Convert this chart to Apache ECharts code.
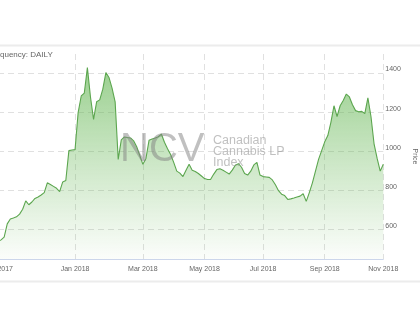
<!DOCTYPE html>
<html><head><meta charset="utf-8">
<script src="https://cdn.jsdelivr.net/npm/echarts@6/dist/echarts.min.js"></script>
<style>html,body{margin:0;padding:0;background:#fff;}#c{width:420px;height:322px;}</style>
</head><body><div id="c"></div>
<script>
const dates = [
'2017-11-01','2017-11-03','2017-11-06','2017-11-08','2017-11-10','2017-11-13','2017-11-15','2017-11-17','2017-11-20','2017-11-22','2017-11-24','2017-11-27','2017-11-29','2017-12-01','2017-12-04','2017-12-06','2017-12-08','2017-12-11','2017-12-13','2017-12-15','2017-12-18','2017-12-20','2017-12-22','2017-12-27','2017-12-29',
'2018-01-02','2018-01-04','2018-01-08','2018-01-10','2018-01-12','2018-01-16','2018-01-18','2018-01-22','2018-01-24','2018-01-26','2018-01-30','2018-02-01','2018-02-05','2018-02-07','2018-02-09','2018-02-13','2018-02-15','2018-02-19','2018-02-21','2018-02-23','2018-02-26','2018-02-28',
'2018-03-01','2018-03-05','2018-03-07','2018-03-09','2018-03-13','2018-03-15','2018-03-19','2018-03-21','2018-03-23','2018-03-27','2018-03-29','2018-04-03','2018-04-05','2018-04-09','2018-04-11','2018-04-13','2018-04-17','2018-04-19','2018-04-23','2018-04-26',
'2018-05-01','2018-05-04','2018-05-07','2018-05-10','2018-05-14','2018-05-16','2018-05-18','2018-05-23','2018-05-25','2018-05-29','2018-05-31','2018-06-04','2018-06-07','2018-06-11','2018-06-13','2018-06-15','2018-06-19','2018-06-22','2018-06-27',
'2018-07-03','2018-07-05','2018-07-09','2018-07-11','2018-07-13','2018-07-17','2018-07-19','2018-07-23','2018-07-25','2018-07-27','2018-07-31','2018-08-02','2018-08-07','2018-08-09','2018-08-13','2018-08-15','2018-08-17','2018-08-21','2018-08-24','2018-08-28',
'2018-09-04','2018-09-06','2018-09-10','2018-09-12','2018-09-14','2018-09-18','2018-09-20','2018-09-24','2018-09-26','2018-09-28','2018-10-02','2018-10-04','2018-10-09','2018-10-11','2018-10-15','2018-10-17','2018-10-19','2018-10-23','2018-10-26','2018-11-01'
];
const prices = [
540,548,562,630,655,660,666,680,705,748,728,742,760,768,778,790,840,832,822,812,795,845,852,1005,1008,
1010,1200,1285,1300,1430,1280,1165,1255,1265,1320,1405,1380,1325,1255,960,1060,1075,1072,1070,1055,1025,980,
935,965,1058,1065,1070,1076,1090,1048,1015,985,945,900,890,872,905,935,905,898,888,875,
862,857,858,885,908,912,905,895,885,905,930,938,920,888,880,900,932,945,880,
872,870,868,855,830,800,782,775,755,758,762,768,772,784,745,790,840,900,960,1005,
1050,1082,1150,1235,1180,1235,1262,1295,1280,1240,1210,1204,1206,1195,1275,1180,1040,965,900,935
];
const monthTicks = ['2017-11-01','2018-01-02','2018-03-01','2018-05-01','2018-07-03','2018-09-04','2018-11-01'];
const monthLabels = ['Nov 2017','Jan 2018','Mar 2018','May 2018','Jul 2018','Sep 2018','Nov 2018'];
const yMin = 450, yMax = 1500;
const frequencyText = 'Frequency: DAILY';
const watermarkBig = 'NCV';
const watermarkSmall = 'Canadian\nCannabis LP\nIndex';

const FONT = '"Liberation Sans", Arial, sans-serif';
const chart = echarts.init(document.getElementById('c'), null, {renderer: 'canvas'});
const gridColor = '#e0e0e0';
chart.setOption({
  animation: false,
  textStyle: {fontFamily: FONT},
  grid: {left: -2, right: 36.7, top: 54, bottom: 63, containLabel: false, outerBoundsMode: 'none'},
  xAxis: {
    type: 'category', data: dates, boundaryGap: false,
    axisLine: {lineStyle: {color: '#ccd6eb', width: 1}},
    axisTick: {show: false},
    axisLabel: {
      interval: (i, v) => monthTicks.includes(v),
      formatter: v => { const k = monthTicks.indexOf(v); return k >= 0 ? monthLabels[k] : ''; },
      color: '#666', fontSize: 7, margin: 7, fontFamily: FONT
    },
    splitLine: {show: true, interval: (i, v) => monthTicks.includes(v) && i > 0,
      lineStyle: {color: gridColor, type: [6, 4], width: 1}}
  },
  yAxis: {
    type: 'value', position: 'right', min: yMin, max: yMax, splitNumber: 5,
    name: 'Price', nameLocation: 'middle', nameGap: 26, nameRotate: -90,
    nameTextStyle: {color: '#666', fontSize: 7, fontFamily: FONT},
    axisLine: {show: false}, axisTick: {show: false},
    axisLabel: {showMinLabel: false, showMaxLabel: false, color: '#666', fontSize: 7, margin: 2,
      verticalAlign: 'bottom', lineHeight: 8, fontFamily: FONT, formatter: v => String(v)},
    splitLine: {lineStyle: {color: ['rgba(0,0,0,0)', gridColor, gridColor, gridColor, gridColor, gridColor, 'rgba(0,0,0,0)'], type: [6, 4], width: 1}}
  },
  series: [{
    type: 'line', data: prices, symbol: 'none', showSymbol: false,
    lineStyle: {color: '#5ca64f', width: 1.1},
    areaStyle: {color: new echarts.graphic.LinearGradient(0, 0, 0, 1, [
      {offset: 0, color: 'rgba(96,180,78,0.9)'},
      {offset: 0.5, color: 'rgba(96,180,78,0.45)'},
      {offset: 1, color: 'rgba(96,180,78,0.03)'}
    ])}
  }],
  graphic: [
    {type: 'rect', z: 100, shape: {x: 0, y: 44.5, width: 420, height: 2}, style: {fill: '#ececec'}},
    {type: 'rect', z: 100, shape: {x: 0, y: 280.5, width: 420, height: 2}, style: {fill: '#ececec'}},
    {type: 'text', z: 100, x: -12, y: 55, style: {text: frequencyText, fontSize: 8, fontFamily: FONT, fill: '#666', verticalAlign: 'middle'}},
    {type: 'text', z: 100, x: 120, y: 150, style: {text: watermarkBig, fontSize: 40, fontFamily: FONT, fill: 'rgba(130,130,130,0.5)', verticalAlign: 'middle'}},
    {type: 'text', z: 100, x: 213, y: 135.6, style: {text: watermarkSmall, fontSize: 12.5, lineHeight: 10.7, fontFamily: FONT, fill: 'rgba(140,140,140,0.55)', verticalAlign: 'top'}}
  ]
});
</script></body></html>
